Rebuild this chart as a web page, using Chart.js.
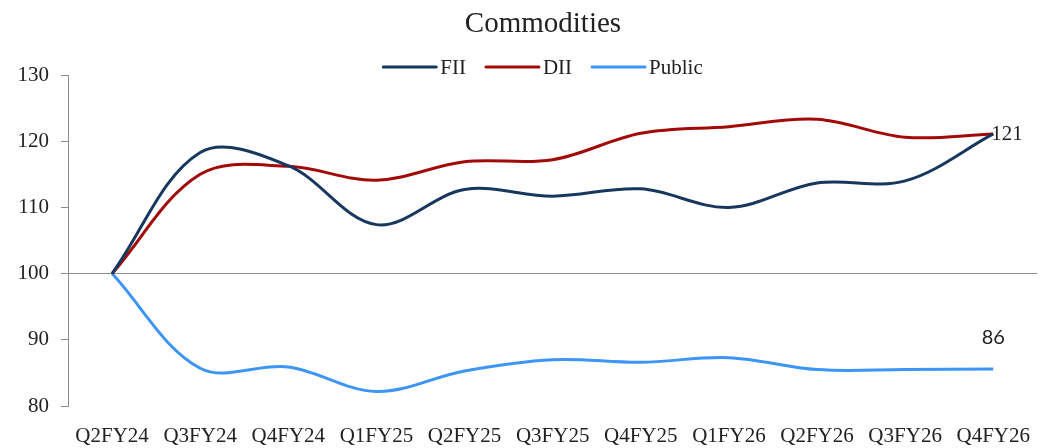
<!DOCTYPE html>
<html>
<head>
<meta charset="utf-8">
<script src="https://cdn.jsdelivr.net/npm/chart.js@4"></script>
<style>
  html, body { margin: 0; padding: 0; background: #fff; }
  #wrap { width: 1048px; height: 448px; position: relative; }
</style>
</head>
<body>
<div id="wrap"><canvas id="commoditiesChart"></canvas></div>
<script>
// Quarter labels
const quarters = ['Q2FY24', 'Q3FY24', 'Q4FY24', 'Q1FY25', 'Q2FY25', 'Q3FY25', 'Q4FY25', 'Q1FY26', 'Q2FY26', 'Q3FY26', 'Q4FY26'];

// Indexed holdings (Q2FY24 = 100)
const fiiValues = [100, 118.3, 116.3, 107.4, 112.7, 111.7, 112.8, 110.0, 113.7, 114.0, 121.1];
const diiValues = [100, 115.0, 116.2, 114.1, 116.9, 117.2, 121.2, 122.2, 123.3, 120.6, 121.1];
const publicValues = [100, 85.7, 85.9, 82.2, 85.3, 87.0, 86.6, 87.3, 85.5, 85.5, 85.6];

const yTicks = [80, 90, 100, 110, 120, 130];

const serif = "'Liberation Serif', 'DejaVu Serif', serif";
const axisGray = '#8c8c8c';
const headCenter = 543; // title and legend sit centred over this x

// title + legend drawn by hand so they can sit above the plot like the original
const headerPlugin = {
    id: 'headerPlugin',
    afterDraw(chart) {
        const ctx = chart.ctx;
        ctx.save();
        ctx.fillStyle = '#222';
        ctx.font = '29px ' + serif;
        ctx.textAlign = 'center';
        ctx.textBaseline = 'alphabetic';
        ctx.fillText('Commodities', headCenter, 32);

        const lineLen = 53, gap = 4, itemGap = 20;
        ctx.font = '21px ' + serif;
        let total = 0;
        const widths = chart.data.datasets.map(ds => ctx.measureText(ds.label).width);
        widths.forEach((w, i) => { total += lineLen + gap + w + (i > 0 ? itemGap : 0); });
        let x = headCenter - total / 2;
        const y = 67;
        chart.data.datasets.forEach((ds, i) => {
            ctx.strokeStyle = ds.borderColor;
            ctx.lineWidth = 3;
            ctx.lineCap = 'round';
            ctx.beginPath();
            ctx.moveTo(x, y);
            ctx.lineTo(x + lineLen, y);
            ctx.stroke();
            ctx.fillStyle = '#222';
            ctx.textAlign = 'left';
            ctx.textBaseline = 'middle';
            ctx.fillText(ds.label, x + lineLen + gap, y + 1);
            x += lineLen + gap + widths[i] + itemGap;
        });
        ctx.restore();
    }
};

// end-of-series value labels
const endLabels = {
    id: 'endLabels',
    afterDatasetsDraw(chart) {
        const ctx = chart.ctx;
        ctx.save();
        const fiiMeta = chart.getDatasetMeta(0);
        const fp = fiiMeta.data[fiiMeta.data.length - 1];
        ctx.fillStyle = '#222';
        ctx.font = '21px ' + serif;
        ctx.textAlign = 'left';
        ctx.textBaseline = 'middle';
        ctx.fillText(Math.round(fiiValues[fiiValues.length - 1]), fp.x - 2, fp.y + 1);

        const pubMeta = chart.getDatasetMeta(2);
        const pp = pubMeta.data[pubMeta.data.length - 1];
        ctx.font = "20px Lato, 'Open Sans', sans-serif";
        ctx.textAlign = 'center';
        ctx.fillText(Math.round(publicValues[publicValues.length - 1]), pp.x, pp.y - 31);
        ctx.restore();
    }
};

const ctx = document.getElementById('commoditiesChart').getContext('2d');
const commoditiesChart = new Chart(ctx, {
    type: 'line',
    data: {
        labels: quarters,
        datasets: [{
            label: 'FII',
            data: fiiValues,
            borderColor: '#17375E',
            backgroundColor: '#17375E',
            borderWidth: 3,
            pointRadius: 0,
            tension: 0.35,
            fill: false
        }, {
            label: 'DII',
            data: diiValues,
            borderColor: '#A20A0A',
            backgroundColor: '#A20A0A',
            borderWidth: 3,
            pointRadius: 0,
            tension: 0.35,
            fill: false
        }, {
            label: 'Public',
            data: publicValues,
            borderColor: '#3D95F5',
            backgroundColor: '#3D95F5',
            borderWidth: 3,
            pointRadius: 0,
            tension: 0.35,
            fill: false
        }]
    },
    options: {
        responsive: true,
        maintainAspectRatio: false,
        animation: false,
        layout: { padding: { left: 0, right: 0, top: 75, bottom: 0 } },
        plugins: {
            legend: { display: false },
            tooltip: { enabled: false },
            title: { display: false }
        },
        scales: {
            x: {
                offset: true,
                grid: { display: false, drawTicks: false },
                border: { display: false },
                ticks: {
                    color: '#222',
                    padding: 18,
                    maxRotation: 0,
                    autoSkip: false,
                    font: { family: serif, size: 21 }
                },
                afterFit(scale) { scale.height = 42; }
            },
            y: {
                min: yTicks[0],
                max: yTicks[yTicks.length - 1],
                afterBuildTicks(scale) { scale.ticks = yTicks.map(v => ({ value: v })); },
                grid: {
                    color: c => (c.tick && c.tick.value === 100) ? axisGray : 'rgba(0,0,0,0)',
                    tickColor: axisGray,
                    tickLength: 7,
                    drawTicks: true
                },
                border: { color: axisGray, width: 1 },
                ticks: {
                    color: '#222',
                    padding: 12,
                    font: { family: serif, size: 21 }
                },
                afterFit(scale) { scale.width = 68; }
            }
        }
    },
    plugins: [headerPlugin, endLabels]
});
</script>
</body>
</html>
